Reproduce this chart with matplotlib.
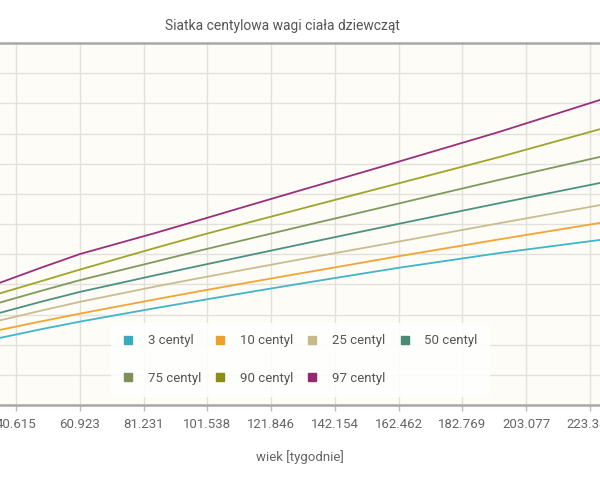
import numpy as np
import matplotlib
matplotlib.use('Agg')
import matplotlib.pyplot as plt
from matplotlib.lines import Line2D

plt.rcParams['font.family'] = ['Roboto', 'DejaVu Sans']

# data (age in weeks, weight in kg)
weeks = [35.3, 48.3, 61.0, 84.9, 99.2, 115.1, 131.0, 147.0, 162.9, 194.7, 226.8]
c3 = [6.44, 7.01, 7.53, 8.42, 8.93, 9.49, 10.04, 10.58, 11.11, 12.08, 12.95]
c10 = [6.97, 7.53, 8.06, 9.00, 9.55, 10.14, 10.72, 11.30, 11.88, 12.99, 14.08]
c25 = [7.60, 8.24, 8.84, 9.85, 10.42, 11.04, 11.65, 12.25, 12.85, 14.06, 15.26]
c50 = [8.10, 8.83, 9.50, 10.60, 11.24, 11.94, 12.64, 13.34, 14.03, 15.39, 16.73]
c75 = [8.78, 9.55, 10.28, 11.50, 12.24, 13.03, 13.82, 14.60, 15.38, 16.94, 18.46]
c90 = [9.39, 10.19, 10.98, 12.41, 13.24, 14.12, 14.99, 15.86, 16.72, 18.45, 20.30]
c97 = [10.09, 11.08, 12.01, 13.40, 14.27, 15.25, 16.22, 17.19, 18.16, 20.12, 22.24]

names = ['3 centyl', '10 centyl', '25 centyl', '50 centyl',
         '75 centyl', '90 centyl', '97 centyl']
series = [c3, c10, c25, c50, c75, c90, c97]
line_colors = ['#3fb6c9', '#f2a534', '#c9bd8e', '#4d9182',
               '#7f9a5e', '#9fa52a', '#9b2f7c']
box_colors = ['#3aaac3', '#eca030', '#c6b98a', '#4a8a74',
              '#7c9058', '#8b8d14', '#96286e']

xticks = [k * 264 / 13 for k in range(1, 14)]

fig = plt.figure(figsize=(6, 4.8), dpi=100)
ax = fig.add_axes([0, 75 / 480, 1, 362 / 480])
ax.set_facecolor('#fdfcf6')

for vals, col in zip(series, line_colors):
    ax.plot(weeks, vals, color=col, lw=1.3, solid_joinstyle='round')

ax.set_xticks(xticks)
ax.set_xticklabels(['%.3f' % t for t in xticks])
ax.set_yticks(np.arange(2, 27, 2))
ax.set_xlim(35.52, 226.57)
ax.set_ylim(2, 26)
ax.tick_params(axis='y', left=False, labelleft=False)
ax.tick_params(axis='x', length=4, width=1, color='#bbbbbb', pad=5,
               labelsize=9.5, labelcolor='#666666')
ax.grid(True, color='#e2e1dc', lw=1)
ax.set_axisbelow(True)

for s in ['left', 'right']:
    ax.spines[s].set_visible(False)
ax.spines['top'].set_color('#a8a8a8')
ax.spines['top'].set_linewidth(1.8)
ax.spines['bottom'].set_color('#a8a8a8')
ax.spines['bottom'].set_linewidth(1.8)

ax.set_xlabel('wiek [tygodnie]', fontsize=9.5, color='#666666', labelpad=14)
fig.text(282 / 600, 1 - 26 / 480, 'Siatka centylowa wagi ciała dziewcząt',
         ha='center', va='center', fontsize=10, color='#555555')

handles = [Line2D([], [], ls='none', marker='s', markersize=6,
                  markerfacecolor=c, markeredgecolor=c) for c in box_colors]
order = [0, 4, 1, 5, 2, 6, 3]
leg = ax.legend([handles[i] for i in order], [names[i] for i in order],
                ncol=4, loc='upper left',
                bbox_to_anchor=(104 / 600, 1 - 316 / 480), bbox_transform=fig.transFigure,
                fontsize=9.5, frameon=True, fancybox=False, handlelength=0.8,
                handletextpad=1.1, columnspacing=1.05, labelspacing=1.85,
                borderpad=0.9, labelcolor='#555555')
leg.get_frame().set_facecolor('white')
leg.get_frame().set_alpha(0.85)
leg.get_frame().set_edgecolor('none')

plt.savefig('out.png', dpi=100)
